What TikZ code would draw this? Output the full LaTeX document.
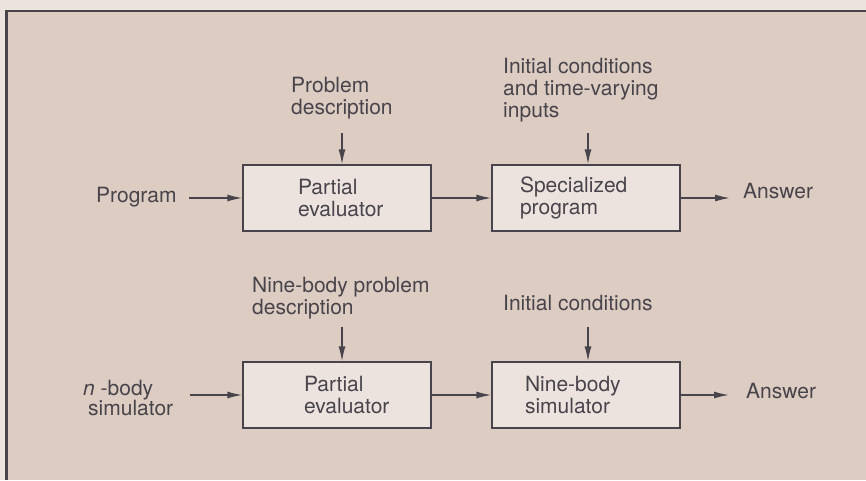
\documentclass[tikz,border=0pt]{standalone}
\usepackage{fontspec}
\setmainfont{TeX Gyre Heros}
\usetikzlibrary{arrows.meta}
\definecolor{paper}{RGB}{237,227,222}
\definecolor{panel}{RGB}{220,204,194}
\definecolor{boxfill}{RGB}{236,227,223}
\definecolor{ink}{RGB}{72,68,76}
\begin{document}
\begin{tikzpicture}[x=1pt,y=-1pt,
  lbl/.style={inner sep=0pt, anchor=base west, align=left, text=ink,
    font=\fontsize{21}{22}\selectfont},
  stage/.style={draw=ink, line width=1.3pt, fill=boxfill, minimum width=188pt,
    minimum height=66pt, inner sep=0pt, align=left, text=ink,
    font=\fontsize{21}{22}\selectfont},
  flow/.style={draw=ink, line width=1.4pt, -{Latex[length=15pt,width=7pt]}},
]
\useasboundingbox (0,0) rectangle (866,480);
% paper and framed panel
\fill[paper] (0,0) rectangle (866,480);
\fill[panel] (6,11) rectangle (866,480);
\draw[ink, line width=2.5pt] (6.5,480) -- (6.5,11) -- (866,11);

% ---- general scheme ----
\node[stage, text width=78pt] (pe1) at (337,198) {Partial\\evaluator};
\node[stage, text width=132pt] (sp) at (586,198) {Specialized\\program};

% multi-line labels are anchored at the baseline of their last line
\node[lbl] (prog) at (96,202) {Program};
\node[lbl] (pd) at (291,114) {Problem\\description};
\node[lbl] (ic) at (503,117) {Initial conditions\\and time-varying\\inputs};
\node[lbl] (ans1) at (743,198) {Answer};

\coordinate (progout) at (189,198);
\coordinate (pdout) at (342,133);
\coordinate (icout) at (588,133);
\coordinate (ans1in) at (730,198);

\draw[flow] (progout) -- (pe1.west);
\draw[flow] (pdout) -- (pdout |- pe1.north);
\draw[flow] (pe1.east) -- (sp.west);
\draw[flow] (icout) -- (icout |- sp.north);
\draw[flow] (sp.east) -- (ans1in);

% ---- nine-body example ----
\node[stage, text width=66pt] (pe2) at (337,395) {Partial\\evaluator};
\node[stage, text width=122pt] (nbs) at (586,395) {Nine-body\\simulator};

\node[lbl, font=\fontsize{21}{20}\selectfont] (nb) at (83,415)
  {\textit{n} -body\\\hspace*{5pt}simulator};
\node[lbl] (npd) at (252,314) {Nine-body problem\\description};
\node[lbl] (ic2) at (503,310) {Initial conditions};
\node[lbl] (ans2) at (746,398) {Answer};

\coordinate (nbout) at (190,395);
\coordinate (npdout) at (342,327);
\coordinate (ic2out) at (588,327);
\coordinate (ans2in) at (729,395);

\draw[flow] (nbout) -- (pe2.west);
\draw[flow] (npdout) -- (npdout |- pe2.north);
\draw[flow] (pe2.east) -- (nbs.west);
\draw[flow] (ic2out) -- (ic2out |- nbs.north);
\draw[flow] (nbs.east) -- (ans2in);
\end{tikzpicture}
\end{document}
